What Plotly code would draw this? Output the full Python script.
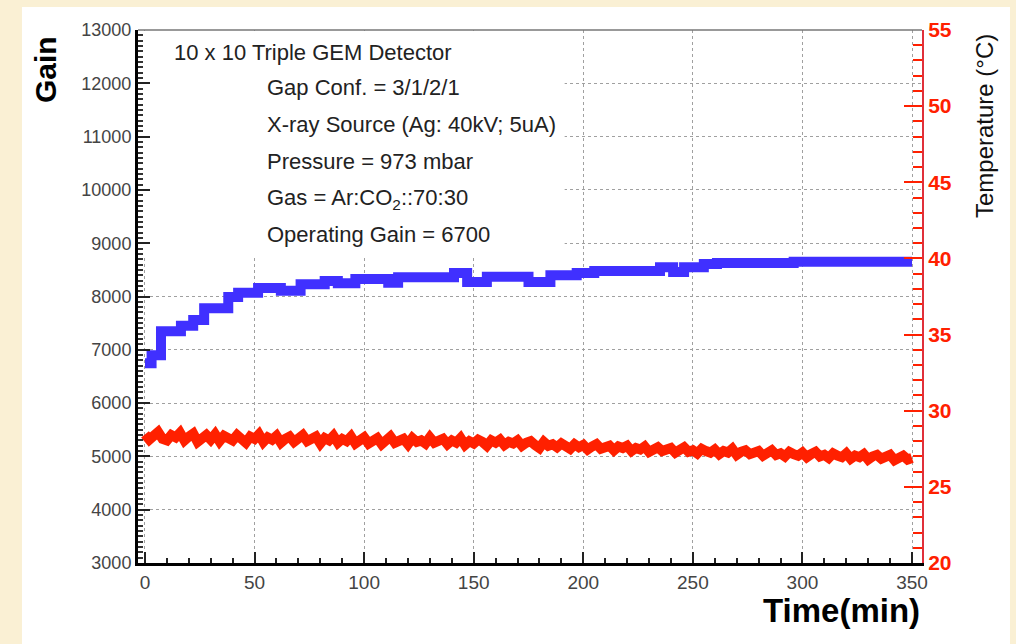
import plotly.graph_objects as go

# ---------------- data ----------------
gain_time = [0, 3, 7.3, 16.4, 22, 27, 38, 42.5, 51.6, 62, 71, 82, 88, 96, 111, 115.5,
             141, 147, 156, 175, 185, 197, 205, 235, 241, 246, 255, 261, 296, 350]
gain_vals = [6750, 6900, 7350, 7450, 7560, 7780, 7990, 8070, 8160, 8110, 8230, 8290, 8250,
             8330, 8260, 8360, 8440, 8270, 8370, 8270, 8400, 8440, 8480, 8550, 8460, 8550,
             8610, 8630, 8650, 8650]

temp_time = list(range(0, 351, 2))
temp_vals = [
    28.45, 28.10, 28.35, 28.60, 28.15, 28.05, 28.40, 28.25, 28.55, 28.05,
    28.30, 28.50, 27.95, 28.25, 28.40, 28.10, 28.45, 28.00, 28.35, 28.20,
    28.05, 28.40, 28.20, 27.90, 28.30, 28.15, 28.45, 27.95, 28.25, 28.10,
    28.35, 27.90, 28.15, 28.30, 27.95, 28.20, 28.40, 28.00, 28.10, 28.30,
    27.85, 28.20, 28.05, 28.35, 27.90, 28.15, 28.00, 28.30, 27.85, 28.10,
    28.25, 27.85, 28.05, 28.20, 27.80, 28.10, 28.30, 27.90, 28.00, 28.15,
    27.80, 28.20, 27.95, 28.05, 27.85, 28.25, 27.90, 28.00, 28.15, 27.80,
    28.05, 27.90, 28.20, 27.75, 28.00, 27.85, 28.10, 27.95, 27.70, 28.05,
    27.90, 28.10, 27.75, 27.95, 27.85, 28.05, 27.70, 27.90, 28.00, 27.75,
    27.55, 27.95, 27.70, 27.80, 27.60, 27.85, 27.65, 27.50, 27.80, 27.60,
    27.75, 27.45, 27.65, 27.80, 27.50, 27.60, 27.70, 27.40, 27.65, 27.55,
    27.70, 27.35, 27.55, 27.45, 27.65, 27.30, 27.50, 27.60, 27.35, 27.45,
    27.55, 27.25, 27.45, 27.60, 27.30, 27.40, 27.20, 27.50, 27.35, 27.25,
    27.45, 27.15, 27.35, 27.25, 27.50, 27.10, 27.30, 27.40, 27.15, 27.25,
    27.35, 27.05, 27.25, 27.40, 27.10, 27.20, 27.00, 27.30, 27.15, 27.05,
    27.25, 26.95, 27.15, 27.30, 27.00, 27.10, 26.90, 27.20, 27.05, 26.95,
    27.20, 26.85, 27.05, 26.95, 27.15, 26.80, 27.00, 27.10, 26.85, 26.95,
    27.10, 26.75, 26.95, 27.05, 26.80, 26.90,
]

info_lines = [
    "Gap Conf. = 3/1/2/1",
    "X-ray Source (Ag: 40kV; 5uA)",
    "Pressure = 973 mbar",
    "Gas = Ar:CO<sub>2</sub>::70:30",
    "Operating Gain = 6700",
]
info_gain_pos = [11912, 11218, 10542, 9829, 9154]

# white text-box (pave) corners, in axis units: [time, gain]
pave_x = [-2.0, 191.5, 191.5, -2.0, -2.0]
pave_y = [8780, 8780, 12980, 12980, 8780]

# ---------------- figure ----------------
FONT = "Liberation Sans, Arial, Helvetica, sans-serif"
BLUE = "#4030ff"
RED = "rgb(255,32,0)"
BEIGE = "#faf0d4"

fig = go.Figure()
fig.add_trace(go.Scatter(
    x=pave_x, y=pave_y, mode="lines", fill="toself", fillcolor="white",
    line=dict(width=0, color="white"), hoverinfo="skip", showlegend=False, yaxis="y"))
fig.add_trace(go.Scatter(
    x=gain_time, y=gain_vals, mode="lines", line=dict(color=BLUE, width=10, shape="hv"),
    showlegend=False, yaxis="y"))
fig.add_trace(go.Scatter(
    x=temp_time, y=temp_vals, mode="lines", line=dict(color=RED, width=10),
    showlegend=False, yaxis="y2"))

fig.update_layout(
    width=1016, height=644,
    margin=dict(l=138, r=94, t=30, b=81),
    paper_bgcolor=BEIGE,
    plot_bgcolor="white",
    font=dict(family=FONT, color="#333"),
    xaxis=dict(
        range=[-3.19, 354.56], tickmode="linear", tick0=0, dtick=50,
        ticks="inside", ticklen=11, tickwidth=1.5,
        tickcolor="#222", tickfont=dict(size=19, color="#444"),
        minor=dict(dtick=10, tick0=0, ticks="inside", ticklen=5, tickcolor="#222", showgrid=False),
        showline=True, linecolor="black", linewidth=3,
        showgrid=True, gridcolor="#a0a0a0", griddash="dot", gridwidth=1,
        zeroline=False,
    ),
    yaxis=dict(
        range=[3000, 13000], tickmode="linear", tick0=0, dtick=1000, tickformat="d",
        ticks="inside", ticklen=12, tickwidth=1.5,
        tickcolor="#222", tickfont=dict(size=18, color="#444"),
        minor=dict(dtick=100, tick0=0, ticks="inside", ticklen=5, tickcolor="#333", showgrid=False),
        showline=True, linecolor="black", linewidth=3,
        showgrid=True, gridcolor="#a0a0a0", griddash="dot", gridwidth=1,
        zeroline=False,
    ),
    yaxis2=dict(
        overlaying="y", side="right", anchor="x",
        range=[20, 55], tickmode="linear", tick0=0, dtick=5,
        ticks="inside", ticklen=18, tickwidth=1.5,
        tickcolor=RED, tickfont=dict(size=21, color=RED, weight="bold"),
        minor=dict(dtick=1, tick0=0, ticks="inside", ticklen=9, tickcolor=RED, showgrid=False),
        showline=True, linecolor="#e0303a", linewidth=2,
        showgrid=False, zeroline=False,
    ),
    shapes=[
        dict(type="rect", xref="paper", yref="paper", x0=-0.148, x1=1.1122, y0=-0.2, y1=1.0432,
             fillcolor="white", line=dict(width=0), layer="below"),
        dict(type="line", xref="paper", yref="paper", x0=0, x1=1, y0=1, y1=1,
             line=dict(color="#777", width=1.5)),
    ],
)

annotations = [
    dict(text="10 x 10 Triple GEM Detector", x=12.3, y=12587, xref="x", yref="y",
         xanchor="left", yanchor="middle", showarrow=False, font=dict(size=22, color="#222")),
]
for txt, gy in zip(info_lines, info_gain_pos):
    annotations.append(dict(text=txt, x=54.8, y=gy, xref="x", yref="y", xanchor="left",
                            yanchor="middle", showarrow=False, font=dict(size=22, color="#222")))
annotations += [
    dict(text="<b>Gain</b>", x=-0.1173, y=0.925, xref="paper", yref="paper", textangle=-90,
         xanchor="center", yanchor="middle", showarrow=False, font=dict(size=30, color="black")),
    dict(text="Temperature (°C)", x=1.0804, y=0.8199, xref="paper", yref="paper", textangle=-90,
         xanchor="center", yanchor="middle", showarrow=False, font=dict(size=24, color="#111")),
    dict(text="<b>Time(min)</b>", x=1.0, y=-0.0882, xref="paper", yref="paper",
         xanchor="right", yanchor="middle", showarrow=False, font=dict(size=33, color="black")),
]
fig.update_layout(annotations=annotations)

fig.write_html(
    "out.html",
    config={"displayModeBar": False},
    post_script="document.body.style.margin='0';document.body.style.background='" + BEIGE + "';",
)
